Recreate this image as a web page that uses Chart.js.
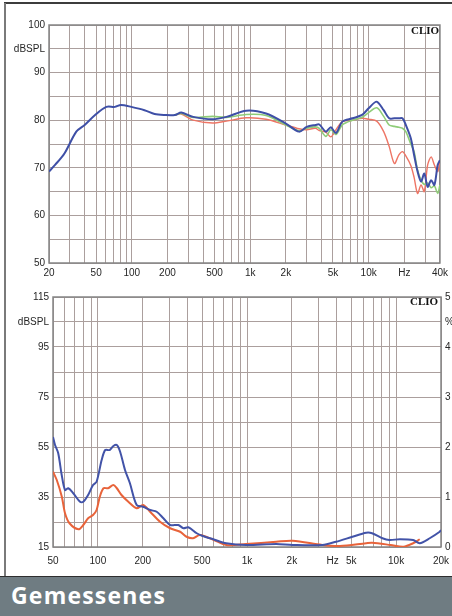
<!DOCTYPE html>
<html>
<head>
<meta charset="utf-8">
<script src="https://cdn.jsdelivr.net/npm/chart.js@4.4.1/dist/chart.umd.min.js"></script>
<style>
  body { margin: 0; background: #fff; }
  #wrap { position: relative; width: 452px; height: 616px; overflow: hidden; background: #fff; }
  #topCanvasBox { position: absolute; left: 0; top: 0; width: 452px; height: 285px; }
  #botCanvasBox { position: absolute; left: 0; top: 285px; width: 480px; height: 290px; }
  .lineLeft { position: absolute; left: 4px; top: 3px; width: 2px; height: 574px; background: #7a7a7a; }
  .lineTop { position: absolute; left: 4px; top: 2px; width: 448px; height: 2px; background: #3c3c3c; }
  .clio { position: absolute; font-family: "Liberation Serif", serif; font-weight: bold; font-size: 11px; color: #111; }
  #banner { position: absolute; left: 0; top: 576px; width: 452px; height: 40px; background: #6f7c82; border-top: 1px solid #2e2e2e; box-sizing: border-box; }
  #banner span { position: absolute; left: 11px; top: 2px; font-family: "Open Sans", sans-serif; font-weight: bold; font-size: 23px; color: #fff; letter-spacing: 1.2px; }
</style>
</head>
<body>
<div id="wrap">
  <div class="lineTop"></div>
  <div class="lineLeft"></div>
  <div id="topCanvasBox"><canvas id="topChart" width="452" height="285"></canvas></div>
  <div id="botCanvasBox"><canvas id="botChart" width="480" height="290"></canvas></div>
  <div class="clio" style="left:411px; top:24px;">CLIO</div>
  <div class="clio" style="left:410px; top:295px;">CLIO</div>
  <div id="banner"><span>Gemessenes</span></div>
</div>
<script>
// Frequenzgang (oben)
const topFreq  = [20, 22.5, 27, 34, 40, 49, 61, 72, 81, 99, 128, 156, 190, 231, 262, 330, 480, 630, 925, 1360, 2000, 2580, 3000, 3560, 3830, 4350, 4800, 5300, 6000, 7300, 8800, 10000, 11700, 13400, 14900, 16500, 18000, 19300, 20600, 22700, 24200, 25900, 27700, 29500, 31500, 33700, 35900, 38300, 40000];
const topBlue  = [69.2, 70.6, 73.0, 77.6, 79.0, 81.1, 82.8, 82.8, 83.2, 82.8, 82.1, 81.3, 81.1, 81.1, 81.6, 80.7, 80.2, 80.7, 82.0, 81.4, 79.3, 77.6, 78.6, 79.0, 79.1, 77.6, 78.5, 77.3, 79.7, 80.4, 81.1, 82.5, 83.9, 82.1, 80.4, 80.4, 80.4, 80.4, 79.0, 76.2, 72.7, 69.2, 67.1, 68.8, 66.0, 67.4, 66.4, 70.6, 71.6];
const topGreen = [null, null, null, null, null, null, null, null, null, null, null, null, null, 81.1, 81.4, 80.6, 80.8, 80.6, 81.2, 81.0, 79.0, 77.8, 78.3, 78.6, 78.3, 76.6, 78.0, 77.0, 79.0, 80.0, 80.6, 81.6, 82.6, 80.8, 79.0, 78.7, 78.5, 78.3, 77.6, 75.0, 73.4, 69.5, 67.4, 66.5, 66.8, 65.8, 66.2, 64.6, 66.4];
const topRed   = [null, null, null, null, null, null, null, null, null, null, null, null, null, 81.1, 81.3, 80.0, 79.4, 79.8, 80.5, 80.2, 79.0, 78.2, 78.0, 78.3, 77.8, 77.5, 76.5, 78.0, 79.7, 80.0, 80.4, 80.2, 79.8, 77.6, 74.5, 70.9, 72.7, 73.4, 72.5, 70.5, 68.0, 64.6, 66.4, 65.0, 70.6, 72.3, 70.6, 69.2, 71.6];

// Klirrfaktor (unten)
const botBlueFreq = [50, 51.6, 54.2, 57.2, 60.2, 63.3, 68.4, 75.9, 79.8, 86, 92.8, 98, 106, 112, 120, 127, 134, 141, 152, 164, 182, 201, 224, 248, 275, 305, 346, 375, 404, 460, 500, 600, 725, 983, 1570, 2025, 3200, 3950, 5100, 6300, 6900, 8100, 9000, 10600, 13000, 14400, 16800, 19600, 20000];
const botBlue     = [59.0, 55.8, 52.5, 43.8, 37.8, 38.5, 36.5, 33.1, 33.1, 35.8, 39.8, 41.1, 49.8, 53.8, 53.8, 55.4, 55.8, 53.1, 45.8, 40.5, 31.8, 31.1, 29.8, 29.1, 26.5, 23.8, 23.8, 22.5, 22.9, 20.5, 19.5, 18.0, 16.5, 15.8, 16.2, 15.8, 15.8, 17.1, 19.1, 20.7, 20.5, 18.5, 17.8, 18.1, 17.8, 16.5, 18.5, 21.1, 21.8];
const botRedFreq  = [50, 53, 57.3, 60.2, 64.5, 74.1, 79.8, 86, 92.8, 98, 103, 109, 117, 127, 134, 144, 160, 182, 201, 224, 261, 305, 356, 393, 435, 484, 600, 725, 983, 1570, 2025, 3200, 4200, 6300, 6900, 9200, 11200, 13000, 14400];
const botRed      = [45.1, 41.8, 35.1, 28.5, 24.5, 22.1, 23.8, 26.5, 27.8, 29.8, 35.1, 38.5, 38.5, 39.8, 38.5, 35.8, 33.1, 30.5, 31.8, 29.1, 25.1, 22.5, 21.1, 19.1, 18.5, 19.8, 17.8, 15.8, 16.2, 17.1, 17.5, 15.8, 15.4, 16.5, 16.7, 15.8, 15.1, 16.5, 18.1];

// Achsen
const topXTicks = [20, 30, 40, 50, 60, 70, 80, 90, 100, 200, 300, 400, 500, 600, 700, 800, 900, 1000, 2000, 3000, 4000, 5000, 6000, 7000, 8000, 9000, 10000, 20000, 30000, 40000];
const topXLabelValues = [20, 50, 100, 200, 500, 1000, 2000, 5000, 10000, 20000, 40000];
const topXLabelTexts  = ['20', '50', '100', '200', '500', '1k', '2k', '5k', '10k', 'Hz', '40k'];
const botXTicks = [50, 60, 70, 80, 90, 100, 200, 300, 400, 500, 600, 700, 800, 900, 1000, 2000, 3000, 3750, 4000, 5000, 6000, 7000, 8000, 9000, 10000, 20000];
const botXLabelValues = [50, 100, 200, 500, 1000, 2000, 3750, 5000, 10000, 20000];
const botXLabelTexts  = ['50', '100', '200', '500', '1k', '2k', 'Hz', '5k', '10k', '20k'];
const hzOnlyTick = 3750;

const gridColor = '#ab9f9d';
const textColor = '#262626';
const tickFont = { family: '"Liberation Sans", Arial, sans-serif', size: 10 };

function pts(freq, vals) {
  return freq.map((f, i) => ({ x: f, y: vals[i] }));
}

// Rahmen um den Plotbereich
const framePlugin = {
  id: 'frame',
  beforeDatasetsDraw(chart) {
    const a = chart.chartArea;
    const ctx = chart.ctx;
    ctx.save();
    ctx.strokeStyle = '#858585';
    ctx.lineWidth = 1.5;
    ctx.strokeRect(a.left, a.top, a.right - a.left, a.bottom - a.top);
    ctx.restore();
  }
};

function xScale(min, max, ticks, labelValues, labelTexts, pad) {
  return {
    type: 'logarithmic',
    min: min,
    max: max,
    afterBuildTicks: s => { s.ticks = ticks.map(v => ({ value: v })); },
    afterFit: s => { s.height = pad.h; },
    grid: {
      color: c => (c.tick && c.tick.value === hzOnlyTick) ? 'rgba(0,0,0,0)' : gridColor,
      lineWidth: 1,
      drawTicks: false
    },
    border: { display: false },
    ticks: {
      autoSkip: false,
      maxRotation: 0,
      padding: pad.p,
      color: textColor,
      font: tickFont,
      callback: v => {
        const i = labelValues.indexOf(v);
        return i >= 0 ? labelTexts[i] : '';
      }
    }
  };
}

// Oberes Diagramm
new Chart(document.getElementById('topChart'), {
  type: 'line',
  data: {
    datasets: [
      { data: pts(topFreq, topBlue),  borderColor: '#3e4fa6', borderWidth: 2,   pointRadius: 0, tension: 0.3 },
      { data: pts(topFreq, topGreen), borderColor: '#8fcc78', borderWidth: 1.6, pointRadius: 0, tension: 0.3 },
      { data: pts(topFreq, topRed),   borderColor: '#ee7565', borderWidth: 1.4, pointRadius: 0, tension: 0.3 }
    ]
  },
  options: {
    responsive: false,
    animation: false,
    layout: { padding: { top: 25, right: 11, left: 0, bottom: 0 } },
    plugins: { legend: { display: false }, tooltip: { enabled: false } },
    scales: {
      x: xScale(20, 40000, topXTicks, topXLabelValues, topXLabelTexts, { h: 22, p: 4 }),
      y: {
        min: 50,
        max: 100,
        afterFit: s => { s.width = 49; },
        grid: { color: gridColor, drawTicks: false },
        border: { display: false },
        ticks: {
          stepSize: 5,
          padding: 4,
          color: textColor,
          font: tickFont,
          callback: v => (v % 10 === 0 ? v : (v === 95 ? 'dBSPL' : ''))
        }
      }
    }
  },
  plugins: [framePlugin]
});

// Unteres Diagramm (Canvas breiter, rechte Achse wird am Bildrand abgeschnitten)
new Chart(document.getElementById('botChart'), {
  type: 'line',
  data: {
    datasets: [
      { data: pts(botBlueFreq, botBlue), borderColor: '#4253a8', borderWidth: 2, pointRadius: 0, tension: 0.3 },
      { data: pts(botRedFreq, botRed),   borderColor: '#e8633a', borderWidth: 2, pointRadius: 0, tension: 0.3 }
    ]
  },
  options: {
    responsive: false,
    animation: false,
    layout: { padding: { top: 12, right: 0, left: 0, bottom: 0 } },
    plugins: { legend: { display: false }, tooltip: { enabled: false } },
    scales: {
      x: xScale(50, 20000, botXTicks, botXLabelValues, botXLabelTexts, { h: 28, p: 8 }),
      y: {
        min: 15,
        max: 115,
        afterFit: s => { s.width = 53; },
        grid: { color: gridColor, drawTicks: false },
        border: { display: false },
        ticks: {
          stepSize: 10,
          padding: 4,
          color: textColor,
          font: tickFont,
          callback: v => ((v - 15) % 20 === 0 ? v : (v === 105 ? 'dBSPL' : ''))
        }
      },
      y2: {
        position: 'right',
        min: 0,
        max: 5,
        afterFit: s => { s.width = 39; },
        grid: { display: false, drawTicks: false },
        border: { display: false },
        ticks: {
          stepSize: 0.5,
          padding: 4,
          color: textColor,
          font: tickFont,
          callback: v => (Number.isInteger(v) ? v : (v === 4.5 ? '%' : ''))
        }
      }
    }
  },
  plugins: [framePlugin]
});
</script>
</body>
</html>
